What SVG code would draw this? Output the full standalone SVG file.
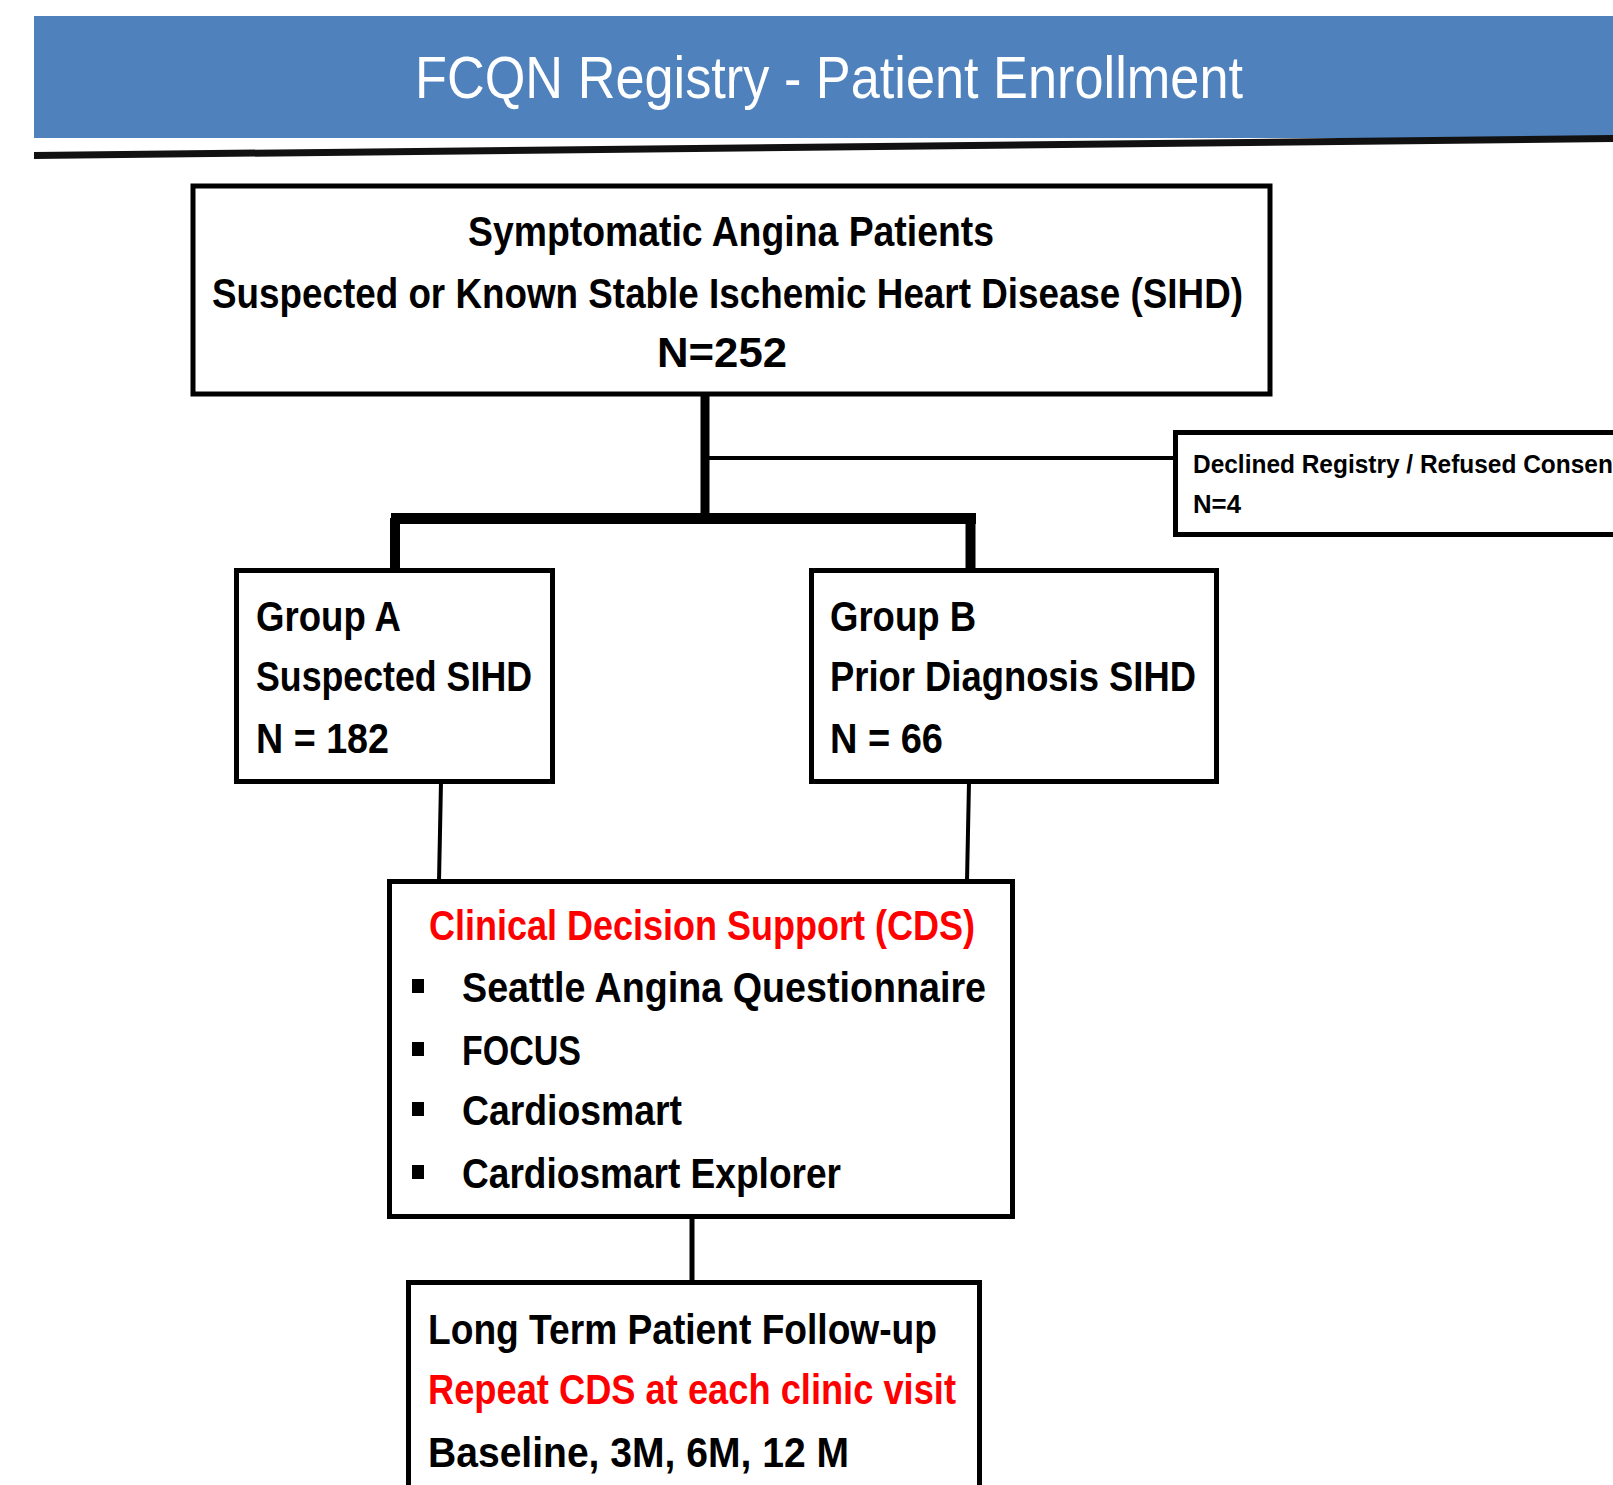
<svg xmlns="http://www.w3.org/2000/svg" width="1613" height="1485" viewBox="0 0 1613 1485">
<style>
.box{fill:#fff;stroke:#000;stroke-width:5}
.t{font-family:"Liberation Sans",Arial,sans-serif;font-weight:bold;font-size:42px;fill:#000}
.red{fill:#ff0000}
.sm{font-size:26px}
.title{font-family:"Liberation Sans",Arial,sans-serif;font-size:59px;fill:#fff}
.ln{stroke:#000;fill:none}
</style>
<rect width="1613" height="1485" fill="#fff"/>
<g id="header">
<rect x="34" y="16" width="1579" height="122" fill="#4f81bd"/>
<polygon points="34,152 1613,135 1613,142 34,159" fill="#111"/>
<text class="title" x="415" y="98" textLength="828" lengthAdjust="spacingAndGlyphs">FCQN Registry - Patient Enrollment</text>
</g>
<g id="connectors">
<line class="ln" x1="705" y1="396" x2="705" y2="520" stroke-width="9"/>
<line class="ln" x1="705" y1="458" x2="1175" y2="458" stroke-width="4"/>
<rect x="391" y="513" width="585" height="11" fill="#000"/>
<line class="ln" x1="395" y1="518" x2="395" y2="570" stroke-width="10"/>
<line class="ln" x1="970.5" y1="518" x2="970.5" y2="570" stroke-width="10"/>
<line class="ln" x1="441" y1="782" x2="439" y2="881" stroke-width="4"/>
<line class="ln" x1="969" y1="782" x2="967" y2="881" stroke-width="4"/>
<line class="ln" x1="692" y1="1217" x2="692" y2="1282" stroke-width="5"/>
</g>
<g id="enrolled">
<rect class="box" x="193" y="186" width="1077" height="208" stroke-width="6"/>
<text class="t" x="468" y="246" textLength="526" lengthAdjust="spacingAndGlyphs">Symptomatic Angina Patients</text>
<text class="t" x="212" y="308" textLength="1031" lengthAdjust="spacingAndGlyphs">Suspected or Known Stable Ischemic Heart Disease (SIHD)</text>
<text class="t" x="657" y="367" textLength="130" lengthAdjust="spacingAndGlyphs">N=252</text>
</g>
<g id="declined">
<rect class="box" x="1175.5" y="432.5" width="500" height="102"/>
<text class="t sm" x="1193" y="473" textLength="428" lengthAdjust="spacingAndGlyphs">Declined Registry / Refused Consent</text>
<text class="t sm" x="1193" y="513" textLength="48" lengthAdjust="spacingAndGlyphs">N=4</text>
</g>
<g id="groupA">
<rect class="box" x="236.5" y="570.5" width="316" height="211"/>
<text class="t" x="256" y="631" textLength="145" lengthAdjust="spacingAndGlyphs">Group A</text>
<text class="t" x="256" y="691" textLength="276" lengthAdjust="spacingAndGlyphs">Suspected SIHD</text>
<text class="t" x="256" y="753" textLength="133" lengthAdjust="spacingAndGlyphs">N = 182</text>
</g>
<g id="groupB">
<rect class="box" x="811.5" y="570.5" width="405" height="211"/>
<text class="t" x="830" y="631" textLength="146" lengthAdjust="spacingAndGlyphs">Group B</text>
<text class="t" x="830" y="691" textLength="366" lengthAdjust="spacingAndGlyphs">Prior Diagnosis SIHD</text>
<text class="t" x="830" y="753" textLength="113" lengthAdjust="spacingAndGlyphs">N = 66</text>
</g>
<g id="cds">
<rect class="box" x="389.5" y="881.5" width="623" height="335"/>
<text class="t red" x="429" y="940" textLength="546" lengthAdjust="spacingAndGlyphs">Clinical Decision Support (CDS)</text>
<rect x="412" y="979" width="12" height="14" fill="#000"/>
<rect x="412" y="1042" width="12" height="14" fill="#000"/>
<rect x="412" y="1102" width="12" height="14" fill="#000"/>
<rect x="412" y="1165" width="12" height="14" fill="#000"/>
<text class="t" x="462" y="1002" textLength="524" lengthAdjust="spacingAndGlyphs">Seattle Angina Questionnaire</text>
<text class="t" x="462" y="1065" textLength="119" lengthAdjust="spacingAndGlyphs">FOCUS</text>
<text class="t" x="462" y="1125" textLength="220" lengthAdjust="spacingAndGlyphs">Cardiosmart</text>
<text class="t" x="462" y="1188" textLength="379" lengthAdjust="spacingAndGlyphs">Cardiosmart Explorer</text>
</g>
<g id="followup">
<rect class="box" x="408.5" y="1282.5" width="571" height="300"/>
<text class="t" x="428" y="1344" textLength="509" lengthAdjust="spacingAndGlyphs">Long Term Patient Follow-up</text>
<text class="t red" x="428" y="1404" textLength="528" lengthAdjust="spacingAndGlyphs">Repeat CDS at each clinic visit</text>
<text class="t" x="428" y="1467" textLength="421" lengthAdjust="spacingAndGlyphs">Baseline, 3M, 6M, 12 M</text>
</g>
</svg>
